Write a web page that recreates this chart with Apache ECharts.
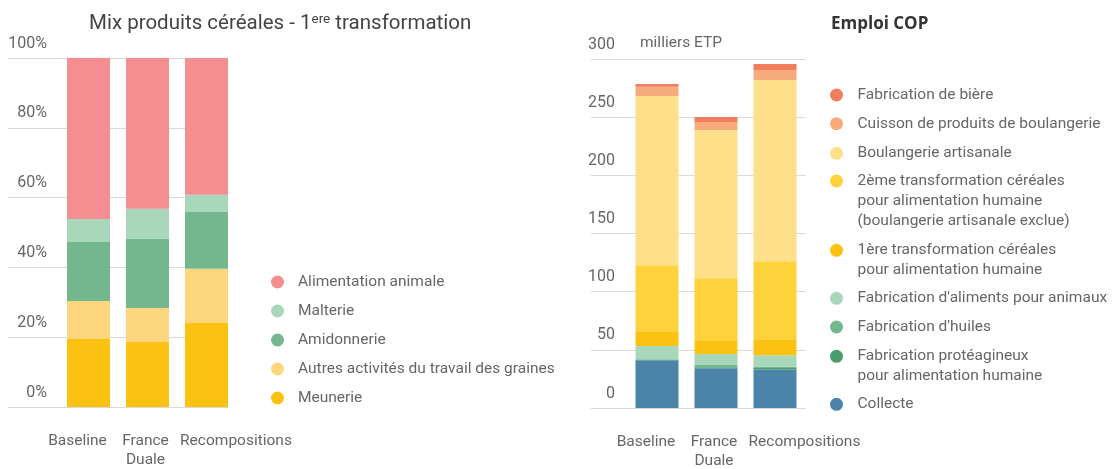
<!DOCTYPE html>
<html>
<head>
<meta charset="utf-8">
<script src="https://cdn.jsdelivr.net/npm/echarts@6/dist/echarts.min.js"></script>
<style>
  html, body { margin: 0; padding: 0; background: #fff; }
  #main { width: 1112px; height: 469px; }
</style>
</head>
<body>
<div id="main"></div>
<script>
// categories
var scenarios = ['Baseline', 'France\nDuale', 'Recompositions'];

// Mix produits céréales (%), bas -> haut
var mixNames = ['Meunerie', 'Autres activités du travail des graines', 'Amidonnerie', 'Malterie', 'Alimentation animale'];
var meunerie = [19.5, 18.6, 24.1];
var autresGraines = [10.9, 9.8, 15.5];
var amidonnerie = [16.9, 19.8, 16.3];
var malterie = [6.6, 8.6, 4.9];
var alimAnimale = [46.1, 43.2, 39.2];
var pctTicks = { min: 0, max: 100, step: 20 };

// Emploi COP (milliers ETP), bas -> haut
var emploiNames = [
  'Collecte',
  'Fabrication protéagineux\npour alimentation humaine',
  "Fabrication d'huiles",
  "Fabrication d'aliments pour animaux",
  '1ère transformation céréales\npour alimentation humaine',
  '2ème transformation céréales\npour alimentation humaine\n(boulangerie artisanale exclue)',
  'Boulangerie artisanale',
  'Cuisson de produits de boulangerie',
  'Fabrication de bière'
];
var collecte = [41.0, 34.1, 33.0];
var proteagineux = [0.2, 0.3, 1.3];
var huiles = [0.7, 2.6, 1.4];
var alimentsAnimaux = [11.4, 9.5, 9.6];
var transfo1 = [12.7, 11.7, 13.8];
var transfo2 = [56.7, 53.4, 67.1];
var boulangerie = [145.5, 127.4, 155.7];
var cuisson = [7.9, 6.9, 8.6];
var biere = [2.5, 4.2, 5.2];
var etpTicks = { min: 0, max: 300, step: 50 };

var FONT = "Roboto, 'Liberation Sans', sans-serif";
var TXT = '#666';
var mixColors = ['#FBC212', '#FDD67E', '#74B78F', '#A9D7B9', '#F48E91'];
var emploiColors = ['#4B83A9', '#4C9C6F', '#74B78F', '#A9D7B9', '#FBC212', '#FDD23B', '#FEDF8A', '#F7AB7D', '#F07E5C'];
// décalage horizontal des libellés de catégorie (comme l'original)
var labelPad = [[0, 22, 0, 0], [0, 4, 0, 0], [0, 0, 0, 59]];
// position verticale de chaque entrée de la légende Emploi (bas -> haut)
var emploiLegendTop = [394.3, 346.3, 317, 288.3, 240.3, 171, 143.3, 113.7, 85];
var LH = 20;

var myChart = echarts.init(document.getElementById('main'));

function catData() {
  return scenarios.map(function (s, i) {
    return { value: s, textStyle: { padding: labelPad[i] } };
  });
}

function tickLabel(margin, fmt) {
  return {
    inside: true, margin: margin, align: 'right', verticalAlign: 'bottom', lineHeight: 29,
    color: TXT, fontSize: 16, fontFamily: FONT, formatter: fmt
  };
}

function lineAxis(t, extra) {
  var ax = {
    type: 'value', min: t.min, max: t.max, interval: t.step,
    axisLine: { show: false }, axisTick: { show: false },
    splitLine: { lineStyle: { color: '#d9d9d9', width: 1 } }
  };
  for (var k in extra) ax[k] = extra[k];
  return ax;
}

function hiddenY(t, idx) {
  return { type: 'value', gridIndex: idx, min: t.min, max: t.max, interval: t.step, show: false, splitLine: { show: false } };
}

function barX(idx) {
  return {
    type: 'category', gridIndex: idx, data: catData(),
    axisLine: { show: false }, axisTick: { show: false },
    axisLabel: {
      interval: 0, margin: 25, verticalAlign: 'top', lineHeight: 19,
      color: TXT, fontSize: 15.5, fontFamily: FONT
    }
  };
}

var mixData = [meunerie, autresGraines, amidonnerie, malterie, alimAnimale];
var emploiData = [collecte, proteagineux, huiles, alimentsAnimaux, transfo1, transfo2, boulangerie, cuisson, biere];

var series = [];
mixNames.forEach(function (n, i) {
  series.push({
    name: n, type: 'bar', stack: 'mix', xAxisIndex: 1, yAxisIndex: 1,
    barWidth: 43, itemStyle: { color: mixColors[i] }, data: mixData[i]
  });
});
emploiNames.forEach(function (n, i) {
  series.push({
    name: n, type: 'bar', stack: 'emploi', xAxisIndex: 3, yAxisIndex: 3,
    barWidth: 43, itemStyle: { color: emploiColors[i] }, data: emploiData[i]
  });
});

var legendText = { color: TXT, fontSize: 15.5, fontFamily: FONT, lineHeight: LH };

var legends = [{
  orient: 'vertical', left: 271, top: 272, padding: 0, itemGap: 9,
  icon: 'circle', itemWidth: 31, itemHeight: 13,
  textStyle: legendText, data: mixNames.slice().reverse()
}];
// une légende par entrée : pour les libellés multi-lignes, le point reste sur la 1re ligne
emploiNames.forEach(function (n, i) {
  var lines = n.split('\n').length;
  var h = 13 + (lines - 1) * LH;
  var multi = lines > 1;
  legends.push({
    orient: 'vertical', left: multi ? 820.5 : 830, top: emploiLegendTop[i], padding: 0,
    icon: multi ? 'path://M0,0M32,' + h + 'M9.5,6.5A6.5,6.5,0,1,1,22.5,6.5A6.5,6.5,0,1,1,9.5,6.5Z' : 'circle',
    itemWidth: 32, itemHeight: h,
    textStyle: legendText, data: [n]
  });
});

option = {
  animation: false,
  title: [
    {
      left: 89, top: 10, padding: 0,
      text: '{a|Mix produits céréales - 1}{s|ere}{a| transformation}',
      textStyle: {
        rich: {
          a: { fontSize: 20.5, fontWeight: 'normal', fontFamily: FONT, color: '#444', lineHeight: 28 },
          s: { fontSize: 13.5, fontWeight: 'normal', fontFamily: FONT, color: '#444', padding: [0, 0, 9, 0] }
        }
      }
    },
    {
      left: 831, top: 14, padding: 0, text: 'Emploi COP',
      textStyle: { fontSize: 17, fontWeight: 'bold', fontFamily: "'Open Sans', sans-serif", color: '#333', lineHeight: 20 }
    }
  ],
  grid: [
    { left: 8, top: 58, width: 220, height: 349, outerBoundsMode: 'none' },
    { left: 59, top: 58, width: 177, height: 349, outerBoundsMode: 'none' },
    { left: 591, top: 59, width: 214, height: 349, outerBoundsMode: 'none' },
    { left: 627.5, top: 59, width: 177, height: 349, outerBoundsMode: 'none' }
  ],
  xAxis: [
    { type: 'category', gridIndex: 0, data: scenarios, show: false },
    barX(1),
    { type: 'category', gridIndex: 2, data: scenarios, show: false },
    barX(3)
  ],
  yAxis: [
    lineAxis(pctTicks, { gridIndex: 0, axisLabel: tickLabel(39, '{value}%') }),
    hiddenY(pctTicks, 1),
    lineAxis(etpTicks, {
      gridIndex: 2,
      name: 'milliers ETP', nameLocation: 'end', nameGap: 16,
      nameTextStyle: { align: 'left', verticalAlign: 'middle', padding: [0, 0, 0, 49], color: TXT, fontSize: 15.5, fontFamily: FONT },
      axisLabel: tickLabel(24, '{value}')
    }),
    hiddenY(etpTicks, 3)
  ],
  legend: legends,
  series: series
};
myChart.setOption(option, true);
</script>
</body>
</html>
